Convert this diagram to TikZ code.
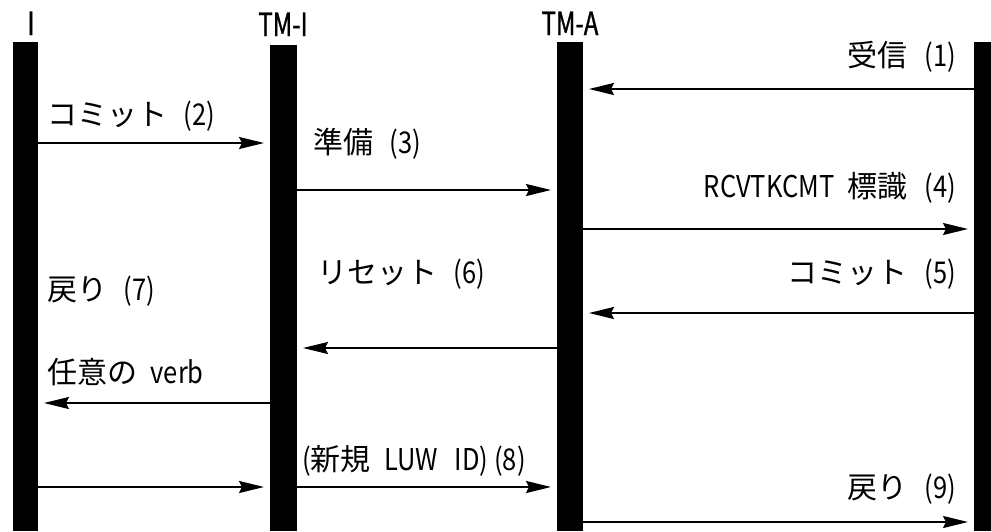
\documentclass[tikz,border=0pt]{standalone}
\usepackage{fontspec}
\setmainfont{Noto Sans CJK JP}
\newfontfamily\nar{Noto Sans CJK JP}[FakeStretch=0.85]
\newfontfamily\hnar{Noto Sans CJK JP}[FakeStretch=0.75,FakeBold=1]
\usetikzlibrary{arrows.meta}
\newcommand\gap{\hspace{0.55em}}
\newcommand\lgap{\hspace{0.45em}}
\begin{document}
\begin{tikzpicture}[x=1pt,y=-1pt,
  bar/.style={fill=black, draw=none, inner sep=0pt, outer sep=0pt, anchor=north west},
  msg/.style={line width=2pt, -{Stealth[length=25pt,width=12pt,inset=3pt]}, shorten >=6pt},
  lbl/.style={inner sep=0pt, font=\fontsize{30}{34}\selectfont},
  hdr/.style={inner sep=0pt, font=\fontsize{32}{36}\selectfont\hnar}]
\useasboundingbox (0,0) rectangle (991,531);
% lifelines
\node[bar, minimum width=25pt, minimum height=489pt] (I) at (13,42) {};
\node[bar, minimum width=27pt, minimum height=486pt] (TMI) at (270,45) {};
\node[bar, minimum width=26pt, minimum height=489pt] (TMA) at (557,42) {};
\node[bar, minimum width=17pt, minimum height=489pt] (R) at (974,42) {};
% headers
\node[hdr, anchor=base] (hI) at (31,35) {I};
\node[hdr, anchor=base] (hTMI) at (283,36) {TM-I};
\node[hdr, anchor=base] (hTMA) at (570,35) {TM-A};
% message levels
\coordinate (m1) at (0,89);
\coordinate (m2) at (0,143);
\coordinate (m3) at (0,190);
\coordinate (m4) at (0,229);
\coordinate (m5) at (0,313);
\coordinate (m6) at (0,348);
\coordinate (m7) at (0,403);
\coordinate (m8) at (0,487);
\coordinate (m9) at (0,522);
% arrows
\draw[msg] (R.west |- m1) -- (TMA.east |- m1);
\draw[msg] (I.east |- m2) -- (TMI.west |- m2);
\draw[msg] (TMI.east |- m3) -- (TMA.west |- m3);
\draw[msg] (TMA.east |- m4) -- (R.west |- m4);
\draw[msg] (R.west |- m5) -- (TMA.east |- m5);
\draw[msg] (TMA.west |- m6) -- (TMI.east |- m6);
\draw[msg] (TMI.west |- m7) -- (I.east |- m7);
\draw[msg] (I.east |- m8) -- (TMI.west |- m8);
\draw[msg] (TMI.east |- m8) -- (TMA.west |- m8);
\draw[msg] (TMA.east |- m9) -- (R.west |- m9);
% labels
\node[lbl, anchor=base east] (l1) at (956,66) {受信\gap{\nar(1)}};
\node[lbl, anchor=base west] (l2) at (47,125) {コミット\gap{\nar(2)}};
\node[lbl, anchor=base west] (l3) at (313,153) {準備\gap{\nar(3)}};
\node[lbl, anchor=base east] (l4) at (956,197) {{\nar RCVTKCMT}\lgap 標識\gap{\nar(4)}};
\node[lbl, anchor=base east] (l5) at (956,283) {コミット\gap{\nar(5)}};
\node[lbl, anchor=base west] (l6) at (317,283) {リセット\gap{\nar(6)}};
\node[lbl, anchor=base west] (l7) at (47,300) {戻り\gap{\nar(7)}};
\node[lbl, anchor=base west] (l7b) at (47,383) {任意の\lgap{\nar verb}};
\node[lbl, anchor=base west] (l8) at (302,470) {{\nar(}新規\lgap{\nar LUW\gap ID)\hspace{0.2em}(8)}};
\node[lbl, anchor=base east] (l9) at (956,498) {戻り\gap{\nar(9)}};
\end{tikzpicture}
\end{document}
